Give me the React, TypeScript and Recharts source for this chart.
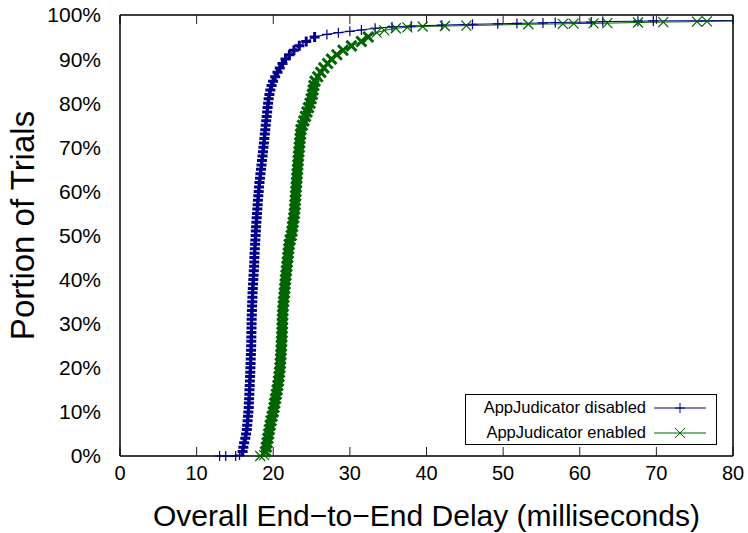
import React from "react";
import { LineChart, Line, XAxis, YAxis, Legend } from "recharts";

const BLUE = "#00008b";
const GREEN = "#006400";

const xTicks = [0, 10, 20, 30, 40, 50, 60, 70, 80];
const yTicks = [0, 10, 20, 30, 40, 50, 60, 70, 80, 90, 100];

const seriesNames = ["AppJudicator disabled", "AppJudicator enabled"];

// delay in ms, portion in %
const disabledDelay = [
  13.0, 13.8, 15.1, 15.6, 16.0, 16.1, 16.2, 16.35, 16.45, 16.55, 16.6, 16.65, 16.7, 16.75, 16.8,
  16.82, 16.85, 16.88, 16.9, 16.93, 16.95, 16.98, 17.0, 17.02, 17.04, 17.06, 17.08, 17.1, 17.12,
  17.13, 17.14, 17.15, 17.16, 17.17, 17.18, 17.2, 17.22, 17.24, 17.26, 17.28, 17.3, 17.33, 17.36,
  17.4, 17.43, 17.46, 17.5, 17.52, 17.54, 17.56, 17.6, 17.63, 17.66, 17.7, 17.73, 17.76, 17.8,
  17.84, 17.88, 17.92, 17.96, 18.0, 18.05, 18.1, 18.15, 18.2, 18.27, 18.33, 18.4, 18.47, 18.53,
  18.6, 18.66, 18.72, 18.78, 18.84, 18.9, 18.96, 19.02, 19.08, 19.14, 19.2, 19.26, 19.33, 19.4,
  19.5, 19.62, 19.78, 19.98, 20.25, 20.55, 20.85, 21.2, 21.6, 22.1, 22.7, 23.4, 24.3, 25.4, 27.0,
  28.5, 30.0, 31.5, 33.3, 35.5, 38.0, 42.0, 46.0, 49.3, 51.8, 55.2, 56.8, 61.5, 63.0, 67.6, 69.6,
  84.0,
];
const disabledPortion = [
  0, 0, 0, 0.2, 1, 2, 3, 4, 5, 6, 7, 8, 9, 10, 11, 12, 13, 14, 15, 16, 17, 18, 19, 20, 21, 22, 23,
  24, 25, 26, 27, 28, 29, 30, 31, 32, 33, 34, 35, 36, 37, 38, 39, 40, 41, 42, 43, 44, 45, 46, 47,
  48, 49, 50, 51, 52, 53, 54, 55, 56, 57, 58, 59, 60, 61, 62, 63, 64, 65, 66, 67, 68, 69, 70, 71,
  72, 73, 74, 75, 76, 77, 78, 79, 80, 81, 82, 83, 84, 85, 86, 87, 88, 89, 90, 91, 92, 93, 94, 95,
  95.6, 96, 96.3, 96.6, 97.0, 97.3, 97.5, 97.7, 97.9, 98.0, 98.1, 98.2, 98.3, 98.4, 98.5, 98.6,
  98.65, 98.8,
];

const enabledDelay = [
  18.3, 18.8, 19.0, 19.1, 19.2, 19.3, 19.4, 19.5, 19.6, 19.72, 19.85, 20.0, 20.1, 20.2, 20.3, 20.4,
  20.5, 20.6, 20.68, 20.75, 20.82, 20.88, 20.92, 20.96, 21.0, 21.03, 21.06, 21.09, 21.12, 21.15,
  21.17, 21.19, 21.21, 21.23, 21.25, 21.3, 21.35, 21.4, 21.45, 21.5, 21.55, 21.6, 21.66, 21.72,
  21.78, 21.84, 21.9, 21.96, 22.02, 22.08, 22.2, 22.35, 22.45, 22.52, 22.6, 22.68, 22.76, 22.8,
  22.84, 22.88, 22.92, 22.96, 23.0, 23.04, 23.08, 23.12, 23.16, 23.2, 23.25, 23.3, 23.35, 23.4,
  23.45, 23.5, 23.56, 23.62, 23.8, 24.0, 24.2, 24.4, 24.6, 24.8, 24.95, 25.1, 25.2, 25.3, 25.45,
  25.8, 26.2, 26.6, 27.1, 27.6, 28.3, 29.1, 30.2, 31.5, 32.4, 33.5, 34.5, 36.0, 37.5, 39.5, 42.4,
  45.2, 53.3, 57.8, 59.2, 61.8, 63.6, 67.6, 70.9, 75.3, 76.6, 84.0,
];
const enabledPortion = [
  0, 0.2, 1, 2, 3, 4, 5, 6, 7, 8, 9, 10, 11, 12, 13, 14, 15, 16, 17, 18, 19, 20, 21, 22, 23, 24,
  25, 26, 27, 28, 29, 30, 31, 32, 33, 34, 35, 36, 37, 38, 39, 40, 41, 42, 43, 44, 45, 46, 47, 48,
  49, 50, 51, 52, 53, 54, 55, 56, 57, 58, 59, 60, 61, 62, 63, 64, 65, 66, 67, 68, 69, 70, 71, 72,
  73, 74, 75, 76, 77, 78, 79, 80, 81, 82, 83, 84, 85, 86, 87, 88, 89, 90, 91, 92, 93, 94, 95, 96,
  96.5, 97.0, 97.2, 97.4, 97.5, 97.6, 97.9, 98.0, 98.05, 98.1, 98.15, 98.3, 98.4, 98.5, 98.55,
  98.7,
];

const zip = (xs: number[], ys: number[]) => xs.map((delay, i) => ({ delay, portion: ys[i] }));
const disabledData = zip(disabledDelay, disabledPortion);
const enabledData = zip(enabledDelay, enabledPortion);

const plusPath = (cx: number, cy: number) => `M${cx - 5},${cy}h10M${cx},${cy - 5}v10`;
const crossPath = (cx: number, cy: number) =>
  `M${cx - 5},${cy - 5}l10,10M${cx - 5},${cy + 5}l10,-10`;

// the original has hundreds of overlapping points in the steep part, so draw those heavier
const markWidth = (portion: number) => (portion >= 1 && portion <= 95 ? 3 : 1.2);

const PlusDot = (props: any) => {
  const { cx, cy, index, payload } = props;
  if (cx == null || cy == null) return <g key={`p${index}`} />;
  return (
    <path key={`p${index}`} d={plusPath(cx, cy)} stroke={BLUE} strokeWidth={markWidth(payload.portion)} fill="none" />
  );
};

const CrossDot = (props: any) => {
  const { cx, cy, index, payload } = props;
  if (cx == null || cy == null) return <g key={`x${index}`} />;
  return (
    <path key={`x${index}`} d={crossPath(cx, cy)} stroke={GREEN} strokeWidth={markWidth(payload.portion)} fill="none" />
  );
};

const LegendBox = () => {
  const rows = [
    { name: seriesNames[0], color: BLUE, d: plusPath(26, 12) },
    { name: seriesNames[1], color: GREEN, d: crossPath(26, 12) },
  ];
  return (
    <div
      style={{
        position: "relative",
        width: 252,
        height: 51,
        border: "1px solid #000",
        boxSizing: "border-box",
        background: "#fff",
        fontFamily: "'Liberation Sans', Arial, sans-serif",
        fontSize: 16.5,
        color: "#000",
      }}
    >
      {rows.map((r, i) => (
        <div key={r.name} style={{ position: "absolute", left: 0, top: 1 + i * 25, height: 24, width: 252 }}>
          <span style={{ position: "absolute", right: 72, top: 2, whiteSpace: "nowrap" }}>{r.name}</span>
          <svg width={56} height={24} style={{ position: "absolute", left: 188, top: 0 }}>
            <line x1={0} y1={12} x2={52} y2={12} stroke={r.color} strokeWidth={1} />
            <path d={r.d} stroke={r.color} strokeWidth={1} fill="none" />
          </svg>
        </div>
      ))}
    </div>
  );
};

const noTick = () => <g />;

export default function App() {
  return (
    <div style={{ position: "absolute", left: 0, top: 0, fontFamily: "'Liberation Sans', Arial, sans-serif" }}>
      <LineChart width={748} height={533} margin={{ top: 15, right: 15, bottom: 0, left: 0 }}>
        <XAxis
          xAxisId="x"
          dataKey="delay"
          type="number"
          domain={[0, 80]}
          ticks={xTicks}
          allowDataOverflow
          height={77}
          tickLine={false}
          tickSize={0}
          tickMargin={10}
          axisLine={{ stroke: "#000", strokeWidth: 1.5 }}
          tick={{ fill: "#000", fontSize: 20 }}
          label={{ value: "Overall End\u2212to\u2212End Delay (milliseconds)", position: "insideBottom", offset: 7, fill: "#000", fontSize: 30 }}
        />
        <XAxis
          xAxisId="xb"
          dataKey="delay"
          type="number"
          domain={[0, 80]}
          ticks={xTicks}
          allowDataOverflow
          mirror
          height={10}
          tickSize={9}
          tickLine={{ stroke: "#222" }}
          axisLine={false}
          tick={noTick}
        />
        <XAxis
          xAxisId="xt"
          orientation="top"
          dataKey="delay"
          type="number"
          domain={[0, 80]}
          ticks={xTicks}
          allowDataOverflow
          mirror
          height={10}
          tickSize={9}
          tickLine={{ stroke: "#222" }}
          axisLine={{ stroke: "#000", strokeWidth: 1.5 }}
          tick={noTick}
        />
        <YAxis
          yAxisId="y"
          type="number"
          domain={[0, 100]}
          ticks={yTicks}
          width={120}
          tickLine={false}
          tickSize={0}
          tickMargin={19}
          tickFormatter={(v: number) => `${v}%`}
          axisLine={{ stroke: "#000", strokeWidth: 1.5 }}
          tick={{ fill: "#000", fontSize: 21 }}
          label={{ value: "Portion of Trials", angle: -90, position: "center", dx: -38, dy: -10, fill: "#000", fontSize: 33 }}
        />
        <YAxis
          yAxisId="yl"
          type="number"
          domain={[0, 100]}
          ticks={yTicks}
          mirror
          width={10}
          tickSize={9}
          tickLine={{ stroke: "#222" }}
          axisLine={false}
          tick={noTick}
        />
        <YAxis
          yAxisId="yr"
          orientation="right"
          type="number"
          domain={[0, 100]}
          ticks={yTicks}
          mirror
          width={10}
          tickSize={9}
          tickLine={{ stroke: "#222" }}
          axisLine={{ stroke: "#000", strokeWidth: 1.5 }}
          tick={noTick}
        />
        <Legend
          layout="vertical"
          align="center"
          verticalAlign="middle"
          content={<LegendBox />}
          wrapperStyle={{ left: 465, top: 394, width: 252, height: 51 }}
        />
        <Line
          xAxisId="x"
          yAxisId="y"
          data={disabledData}
          dataKey="portion"
          name={seriesNames[0]}
          stroke={BLUE}
          strokeWidth={1}
          dot={PlusDot}
          activeDot={false}
          isAnimationActive={false}
        />
        <Line
          xAxisId="x"
          yAxisId="y"
          data={enabledData}
          dataKey="portion"
          name={seriesNames[1]}
          stroke={GREEN}
          strokeWidth={1}
          dot={CrossDot}
          activeDot={false}
          isAnimationActive={false}
        />
      </LineChart>
    </div>
  );
}
